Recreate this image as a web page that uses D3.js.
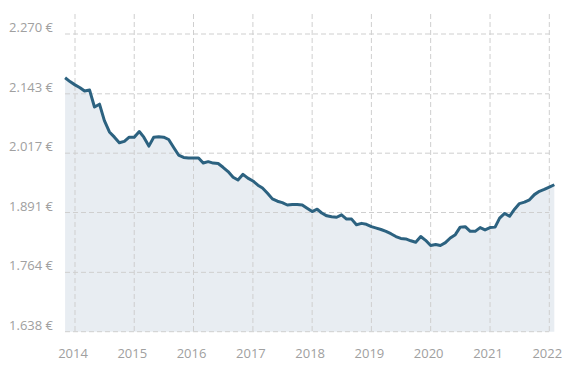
<!DOCTYPE html>
<html>
<head>
<meta charset="utf-8">
<script src="https://cdn.jsdelivr.net/npm/d3@7"></script>
<style>
  body { margin: 0; background: #fff; }
  svg text { font-family: "Open Sans", sans-serif; font-size: 13px; fill: #a0a0a0; }
</style>
</head>
<body>
<svg width="585" height="385"></svg>
<script>
// monthly values, Nov 2013 .. Feb 2022
const startMonth = new Date(2013, 10, 1);
const values = [
  2.177, 2.169, 2.162, 2.156, 2.149, 2.151, 2.115, 2.121, 2.086, 2.062,
  2.051, 2.039, 2.042, 2.051, 2.051, 2.063, 2.051, 2.032, 2.051, 2.052,
  2.051, 2.046, 2.029, 2.013, 2.008, 2.007, 2.007, 2.007, 1.996, 1.999,
  1.996, 1.995, 1.987, 1.978, 1.966, 1.960, 1.972, 1.964, 1.958, 1.949,
  1.943, 1.932, 1.920, 1.915, 1.912, 1.907, 1.908, 1.908, 1.907, 1.900,
  1.893, 1.898, 1.890, 1.884, 1.882, 1.881, 1.886, 1.877, 1.877, 1.865,
  1.868, 1.866, 1.861, 1.858, 1.855, 1.851, 1.846, 1.840, 1.836, 1.835,
  1.831, 1.828, 1.840, 1.832, 1.821, 1.823, 1.821, 1.827, 1.837, 1.844,
  1.860, 1.861, 1.851, 1.851, 1.859, 1.854, 1.859, 1.860, 1.879, 1.889,
  1.883, 1.898, 1.910, 1.913, 1.918, 1.929, 1.936, 1.940, 1.945, 1.950
];
const yTicks = [1.638, 1.764, 1.891, 2.017, 2.143, 2.270];
const xYears = [2014, 2015, 2016, 2017, 2018, 2019, 2020, 2021, 2022];

const data = values.map((v, i) => ({ date: d3.timeMonth.offset(startMonth, i), value: v }));

const svg = d3.select('svg');
const plotTop = 34, plotBottom = 331.7, plotLeft = 65;

const x = d3.scaleTime()
  .domain([new Date(2014, 0, 1), new Date(2022, 0, 1)])
  .range([75, 549.3]);
const y = d3.scaleLinear().domain([1.638, 2.270]).range([plotBottom, plotTop]);

// area
svg.append('path')
  .datum(data)
  .attr('fill', '#e8edf2')
  .attr('d', d3.area().x(d => x(d.date)).y0(plotBottom).y1(d => y(d.value)));

// horizontal grid
svg.append('g')
  .selectAll('line')
  .data(yTicks)
  .join('line')
  .attr('x1', plotLeft).attr('x2', x(new Date(2022, 0, 1)))
  .attr('y1', d => y(d)).attr('y2', d => y(d))
  .attr('stroke', '#cfcfcf')
  .attr('stroke-dasharray', '5,3');

// vertical grid
svg.append('g')
  .selectAll('line')
  .data(xYears)
  .join('line')
  .attr('x1', d => x(new Date(d, 0, 1))).attr('x2', d => x(new Date(d, 0, 1)))
  .attr('y1', 14).attr('y2', plotBottom)
  .attr('stroke', '#cfcfcf')
  .attr('stroke-dasharray', '5,3');

// line
svg.append('path')
  .datum(data)
  .attr('fill', 'none')
  .attr('stroke', '#2c6280')
  .attr('stroke-width', 3)
  .attr('stroke-linejoin', 'round')
  .attr('d', d3.line().x(d => x(d.date)).y(d => y(d.value)));

// y labels
const fmt = d3.format('.3f');
svg.append('g')
  .selectAll('text')
  .data(yTicks)
  .join('text')
  .attr('x', 53)
  .attr('y', d => y(d) - 2)
  .attr('text-anchor', 'end')
  .text(d => fmt(d) + ' €');

// x labels
svg.append('g')
  .selectAll('text')
  .data(xYears)
  .join('text')
  .attr('x', d => x(new Date(d, 0, 1)) - 2)
  .attr('y', 358)
  .attr('text-anchor', 'middle')
  .text(d => d);
</script>
</body>
</html>
